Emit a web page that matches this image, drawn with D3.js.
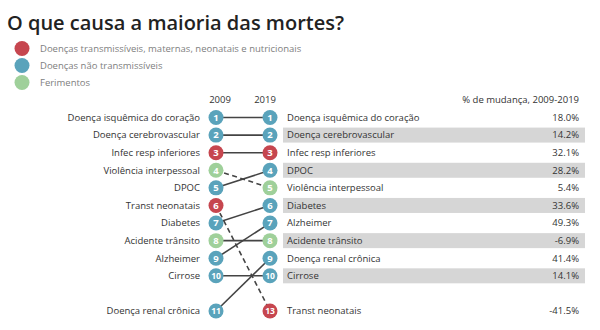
<!DOCTYPE html>
<html><head><meta charset="utf-8">
<script src="https://cdn.jsdelivr.net/npm/d3@7"></script>
<style>body{margin:0;background:#fff;}svg{display:block;font-family:"Open Sans",sans-serif;}</style>
</head><body><svg id="c" width="600" height="330"></svg>
<script>
const causes = ["Doença isquêmica do coração","Doença cerebrovascular","Infec resp inferiores","Violência interpessoal","DPOC","Transt neonatais","Diabetes","Acidente trânsito","Alzheimer","Cirrose","Doença renal crônica"];
const groupOf = ["nt","nt","tm","fe","nt","tm","nt","fe","nt","nt","nt"];
const rank2009 = [1,2,3,4,5,6,7,8,9,10,11];
const rank2019 = [1,2,3,5,4,13,6,8,7,10,9];
const pctChange = [18.0,14.2,32.1,5.4,28.2,-41.5,33.6,-6.9,49.3,14.1,41.4];
const years = ["2009","2019"];
const legendKeys = ["tm","nt","fe"];
const legendLabels = ["Doenças transmissíveis, maternas, neonatais e nutricionais","Doenças não transmissíveis","Ferimentos"];
const legendColors = ["#c6464f","#5aa3bb","#9fd09a"];

const color = d3.scaleOrdinal().domain(legendKeys).range(legendColors);
const slot = r => r <= 10 ? r : 12;
const y = d3.scaleLinear().domain([1,12]).range([117.5,311]);
const x = d3.scalePoint().domain(years).range([216,270]);

const data = causes.map((c,i)=>({name:c,g:groupOf[i],r0:rank2009[i],r1:rank2019[i],p:pctChange[i]}));
const svg = d3.select("#c");

svg.append("text").attr("x",7).attr("y",30).attr("font-size",20).attr("font-weight",600).attr("fill","#222").text("O que causa a maioria das mortes?");

const lg = svg.append("g");
legendKeys.forEach((k,i)=>{
  const yy = 48.5 + i*17;
  lg.append("circle").attr("cx",22).attr("cy",yy).attr("r",7.5).attr("fill",color(k));
  lg.append("text").attr("x",40).attr("y",yy).attr("dy","0.35em").attr("font-size",9.5).attr("fill","#808080").text(legendLabels[i]);
});

// header
years.forEach(yr=>{
  svg.append("text").attr("x",x(yr)+ (yr==="2009"?4:-5)).attr("y",100).attr("dy","0.35em").attr("text-anchor","middle").attr("font-size",9.5).attr("fill","#333").text(yr);
});
svg.append("text").attr("x",579).attr("y",100).attr("dy","0.35em").attr("text-anchor","end").attr("font-size",9.5).attr("fill","#333").text("% de mudança, 2009-2019");

// bands
const right = data.slice().sort((a,b)=>a.r1-b.r1);
svg.append("g").selectAll("rect").data(right.filter(d=>d.r1<=10 && d.r1%2===0)).join("rect")
  .attr("x",283).attr("width",302).attr("y",d=>y(slot(d.r1))-7.5).attr("height",15).attr("fill","#d6d6d6");

// lines
svg.append("g").selectAll("line").data(data).join("line")
  .attr("x1",x("2009")).attr("y1",d=>y(slot(d.r0)))
  .attr("x2",x("2019")).attr("y2",d=>y(slot(d.r1)))
  .attr("stroke","#444").attr("stroke-width",1.6)
  .attr("stroke-dasharray",d=>d.r1>d.r0?"5,3.5":null);

// circles
function dots(key, yr){
  const g = svg.append("g").selectAll("g").data(data).join("g")
    .attr("transform",d=>`translate(${x(yr)},${y(slot(d[key]))})`);
  g.append("circle").attr("r",7.5).attr("fill",d=>color(d.g));
  g.append("text").attr("text-anchor","middle").attr("dy","0.35em").attr("font-size",d=>d[key]>=10?8.5:9.5).attr("font-weight",700).attr("fill","#fff").text(d=>d[key]);
}
dots("r0","2009"); dots("r1","2019");

// left labels
svg.append("g").selectAll("text").data(data).join("text")
  .attr("x",200).attr("y",d=>y(slot(d.r0))).attr("dy","0.35em").attr("text-anchor","end")
  .attr("font-size",9.5).attr("fill","#333").text(d=>d.name);
// right labels
svg.append("g").selectAll("text").data(data).join("text")
  .attr("x",287).attr("y",d=>y(slot(d.r1))).attr("dy","0.35em")
  .attr("font-size",9.5).attr("fill","#333").text(d=>d.name);
svg.append("g").selectAll("text").data(data).join("text")
  .attr("x",579).attr("y",d=>y(slot(d.r1))).attr("dy","0.35em").attr("text-anchor","end")
  .attr("font-size",9.5).attr("fill","#333").text(d=>d3.format(".1f")(d.p).replace("\u2212","-")+"%");
</script></body></html>
